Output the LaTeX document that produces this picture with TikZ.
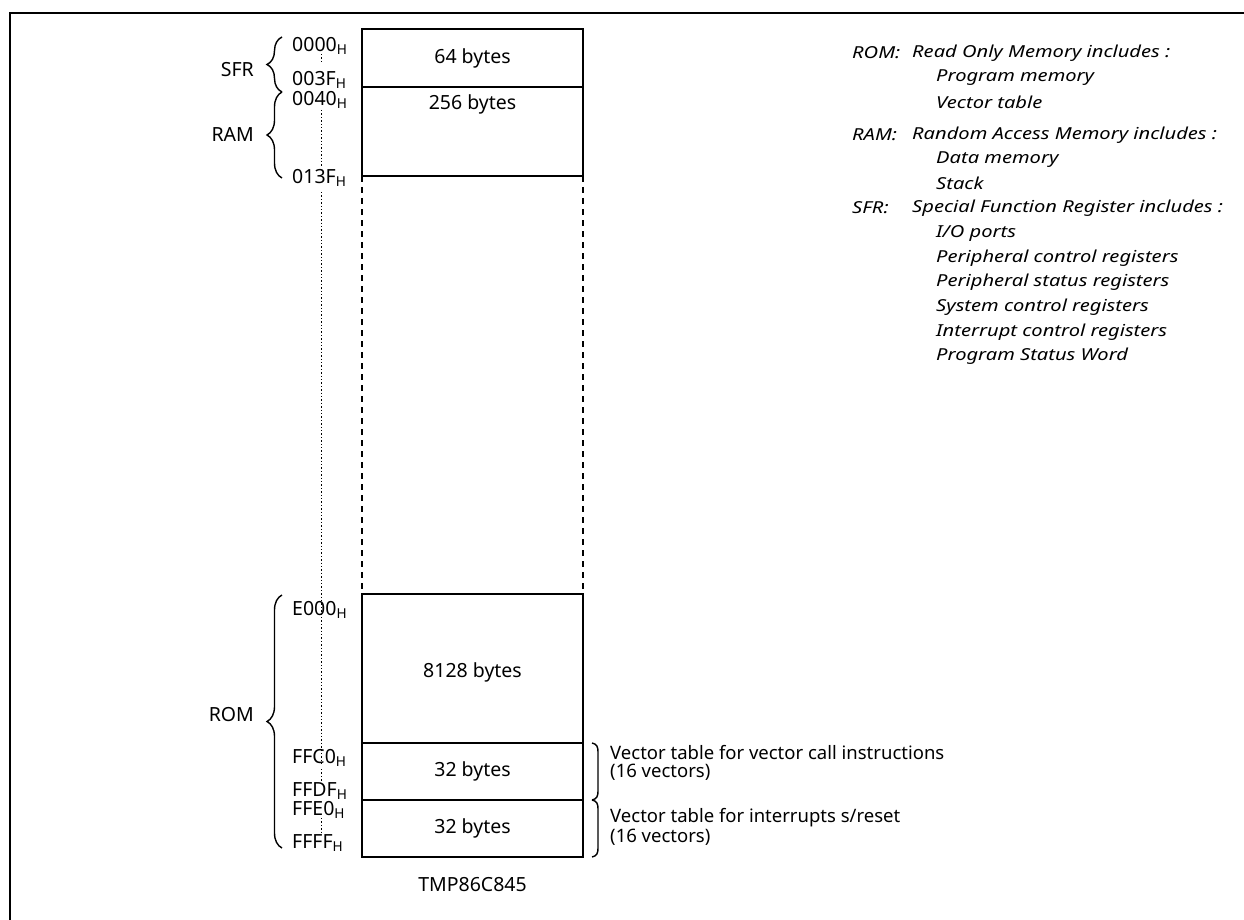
\documentclass[tikz,border=0pt]{standalone}
\usepackage{fontspec}
\setmainfont{Noto Sans}
\newfontfamily\legfont{Noto Sans}[FakeStretch=1.22]
\usetikzlibrary{decorations.pathreplacing}
\tikzset{
  blk/.style={draw, line width=1.5pt, minimum width=221pt, inner sep=0pt, outer sep=0pt},
  lbl/.style={font=\fontsize{19.5}{22}\selectfont, inner sep=0pt},
  addr/.style={font=\fontsize{19.5}{22}\selectfont, inner sep=0pt, anchor=west},
  vtx/.style={font=\fontsize{18.5}{21}\selectfont, inner sep=0pt, anchor=west},
  leg/.style={font=\legfont\fontsize{16.5}{19}\selectfont\itshape, inner sep=0pt, anchor=west},
  lbrace/.style={decorate, decoration={brace, amplitude=15pt, aspect=0.5}, line width=1.4pt},
  dots/.style={line width=1.4pt, dotted},
  dsh/.style={line width=1.5pt, dash pattern=on 6pt off 5pt}
}
\begin{document}
\begin{tikzpicture}[x=1pt,y=-1pt]
\useasboundingbox (0,0) rectangle (1244,920);
\draw[line width=2pt] (10,920) -- (10,13) -- (1244,13);

% memory blocks
\node[blk, minimum height=58pt] (b64) at (472.5,58) {};
\node[blk, minimum height=89pt] (b256) at (472.5,131.5) {};
\node[blk, minimum height=149pt] (b8128) at (472.5,668.5) {};
\node[blk, minimum height=57pt] (v1) at (472.5,771.5) {};
\node[blk, minimum height=57pt] (v2) at (472.5,828.5) {};
\draw[dsh] (b256.south west) -- (b8128.north west);
\draw[dsh] (b256.south east) -- (b8128.north east);

\node[lbl] (t64) at (b64) {64 bytes};
\node[lbl] (t256) at (472.5,104) {256 bytes};
\node[lbl] (t8128) at (472.5,672) {8128 bytes};
\node[lbl] (t32a) at (v1) {32 bytes};
\node[lbl] (t32b) at (v2) {32 bytes};
\node[lbl] (chip) at (472.5,885) {TMP86C845};

% addresses
\node[addr] (a0000) at (292,46) {0000\textsubscript{H}};
\node[addr] (a003F) at (292,80) {003F\textsubscript{H}};
\node[addr] (a0040) at (292,100) {0040\textsubscript{H}};
\node[addr] (a013F) at (292,178) {013F\textsubscript{H}};
\node[addr] (aE000) at (292,610) {E000\textsubscript{H}};
\node[addr] (aFFC0) at (292,758) {FFC0\textsubscript{H}};
\node[addr] (aFFDF) at (292,791) {FFDF\textsubscript{H}};
\node[addr] (aFFE0) at (292,810) {FFE0\textsubscript{H}};
\node[addr] (aFFFF) at (292,843) {FFFF\textsubscript{H}};

% dotted lines
\coordinate (d1) at (321.5,54);
\coordinate (d2) at (321.5,64);
\coordinate (d3) at (321.5,110);
\coordinate (d4) at (321.5,166);
\coordinate (d5) at (321.5,192);
\coordinate (d6) at (321.5,764);
\coordinate (d7) at (321.5,769);
\coordinate (d8) at (321.5,781);
\coordinate (d9) at (321.5,818);
\coordinate (d10) at (321.5,832);
\draw[dots] (d1) -- (d2);
\draw[dots] (d3) -- (d4);
\draw[dots] (d5) -- (d6);
\draw[dots] (d7) -- (d8);
\draw[dots] (d9) -- (d10);

% left braces
\coordinate (s1) at (282,37);
\coordinate (s2) at (282,92);
\coordinate (r2) at (282,178);
\coordinate (m1) at (282,595);
\coordinate (m2) at (282,848);
\draw[lbrace] (s2) -- (s1);
\draw[lbrace] (r2) -- (s2);
\draw[lbrace] (m2) -- (m1);
\node[lbl, anchor=east] (sfr) at (254,70) {SFR};
\node[lbl, anchor=east] (ram) at (254,135) {RAM};
\node[lbl, anchor=east] (rom) at (254,715) {ROM};

% right brackets
\coordinate (p1) at (592,743);
\coordinate (p2) at (592,800);
\coordinate (p3) at (592,857);
\draw[line width=1.4pt] (p1) .. controls (597,744) and (598,747) .. (598,752) -- (598,791) .. controls (598,796) and (597,799) .. (p2);
\draw[line width=1.4pt] (p2) .. controls (597,801) and (598,804) .. (598,809) -- (598,848) .. controls (598,853) and (597,856) .. (p3);
\node[vtx] (vt1) at (610,753) {Vector table for vector call instructions};
\node[vtx] (vt1b) at (610,772) {(16 vectors)};
\node[vtx] (vt2) at (610,818) {Vector table for interrupts s/reset};
\node[vtx] (vt2b) at (610,837) {(16 vectors)};

% legend
\node[leg] (lrom) at (852,53) {ROM:};
\node[leg] (lrom1) at (912,53) {Read Only Memory includes :};
\node[leg] (lrom2) at (936,78) {Program memory};
\node[leg] (lrom3) at (936,102) {Vector table};
\node[leg] (lram) at (852,135) {RAM:};
\node[leg] (lram1) at (912,135) {Random Access Memory includes :};
\node[leg] (lram2) at (936,160) {Data memory};
\node[leg] (lram3) at (936,183) {Stack};
\node[leg] (lsfr) at (852,208) {SFR:};
\node[leg] (lsfr1) at (912,208) {Special Function Register includes :};
\node[leg] (lsfr2) at (936,233) {I/O ports};
\node[leg] (lsfr3) at (936,258) {Peripheral control registers};
\node[leg] (lsfr4) at (936,282) {Peripheral status registers};
\node[leg] (lsfr5) at (936,307) {System control registers};
\node[leg] (lsfr6) at (936,332) {Interrupt control registers};
\node[leg] (lsfr7) at (936,356) {Program Status Word};
\end{tikzpicture}
\end{document}
